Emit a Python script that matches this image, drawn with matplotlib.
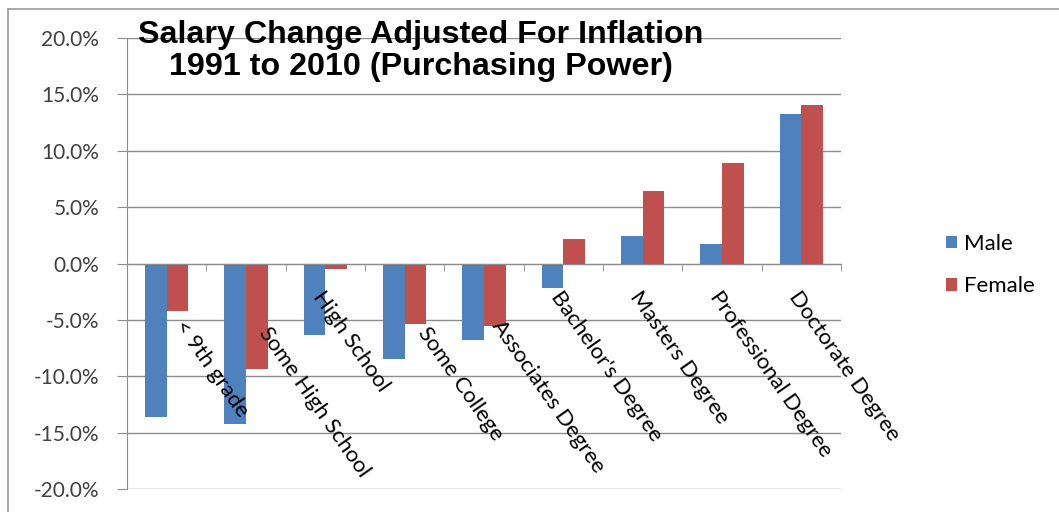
import numpy as np
import matplotlib.pyplot as plt
from matplotlib.lines import Line2D
from matplotlib.transforms import ScaledTranslation

# dados
categories = ["< 9th grade", "Some High School", "High School", "Some College",
              "Associates Degree", "Bachelor's Degree", "Masters Degree",
              "Professional Degree", "Doctorate Degree"]
male = [-13.6, -14.2, -6.3, -8.5, -6.8, -2.2, 2.4, 1.7, 13.3]
female = [-4.2, -9.4, -0.5, -5.4, -5.5, 2.2, 6.4, 8.9, 14.1]
yticks = [-20, -15, -10, -5, 0, 5, 10, 15, 20]

blue = '#4F81BD'
red = '#C0504D'
lab_font = ['Lato', 'DejaVu Sans']

fig = plt.figure(figsize=(10.59, 5.12), dpi=100, facecolor='w')
ax = fig.add_axes([127/1059, 1-489/512, (841-127)/1059, (489-38)/512])

x = np.arange(len(categories))
w = 0.275
ax.bar(x - w/2, male, w, color=blue, label='Male', zorder=3)
ax.bar(x + w/2, female, w, color=red, label='Female', zorder=3)

ax.set_xlim(-0.5, len(categories) - 0.5)
ax.set_ylim(-20, 20)
ax.set_yticks(yticks)
ax.set_yticklabels(['%.1f%%' % v for v in yticks], fontsize=15,
                   family=lab_font, color='#404040')
ax.yaxis.grid(True, color='#8c8c8c', linewidth=1.0)
ax.yaxis.set_zorder(1)
ax.tick_params(axis='y', length=7, color='#8c8c8c', pad=13)

# eixo x no zero, rotulos por cima das barras
ax.spines['bottom'].set_position(('data', 0))
ax.spines['bottom'].set_color('#8c8c8c')
ax.spines['bottom'].set_zorder(4)
ax.spines['left'].set_color('#8c8c8c')
ax.spines['top'].set_visible(False)
ax.spines['right'].set_visible(False)
ax.xaxis.set_zorder(5)

ax.set_xticks(x)
ax.set_xticklabels(categories, rotation=-55, ha='left', va='top',
                   rotation_mode='anchor', fontsize=16, family=lab_font,
                   color='black')
ax.tick_params(axis='x', which='major', length=0, pad=17)
ax.set_xticks(np.arange(len(categories) + 1) - 0.5, minor=True)
ax.tick_params(axis='x', which='minor', length=5, color='#8c8c8c', direction='out')

# alguns rotulos aparecem mais abaixo ao longo da diagonal
nudge = [36, 44, 0, 44, 36, 0, 0, 0, 0]
a = np.deg2rad(55)
for lab, d in zip(ax.get_xticklabels(), nudge):
    lab.set_transform(lab.get_transform() +
                      ScaledTranslation(d*np.cos(a)/100, -d*np.sin(a)/100, fig.dpi_scale_trans))

fig.text(421/1059, 1-51/512, 'Salary Change Adjusted For Inflation\n1991 to 2010 (Purchasing Power)',
         ha='center', va='center', fontsize=23.2, fontweight='bold',
         family='Liberation Sans', linespacing=1.08)

ax.legend(loc='center left', bbox_to_anchor=(926/1059, 1-265/512),
          bbox_transform=fig.transFigure, frameon=False,
          prop={'family': lab_font, 'size': 16}, handlelength=0.5,
          handleheight=0.5, handletextpad=0.3, labelspacing=1.0)

# moldura do grafico
fig.add_artist(Line2D([8/1059, 8/1059], [0, 1-9/512], color='#999999', lw=1.2))
fig.add_artist(Line2D([8/1059, 1], [1-9/512, 1-9/512], color='#999999', lw=1.2))

plt.savefig('out.png', dpi=100)
